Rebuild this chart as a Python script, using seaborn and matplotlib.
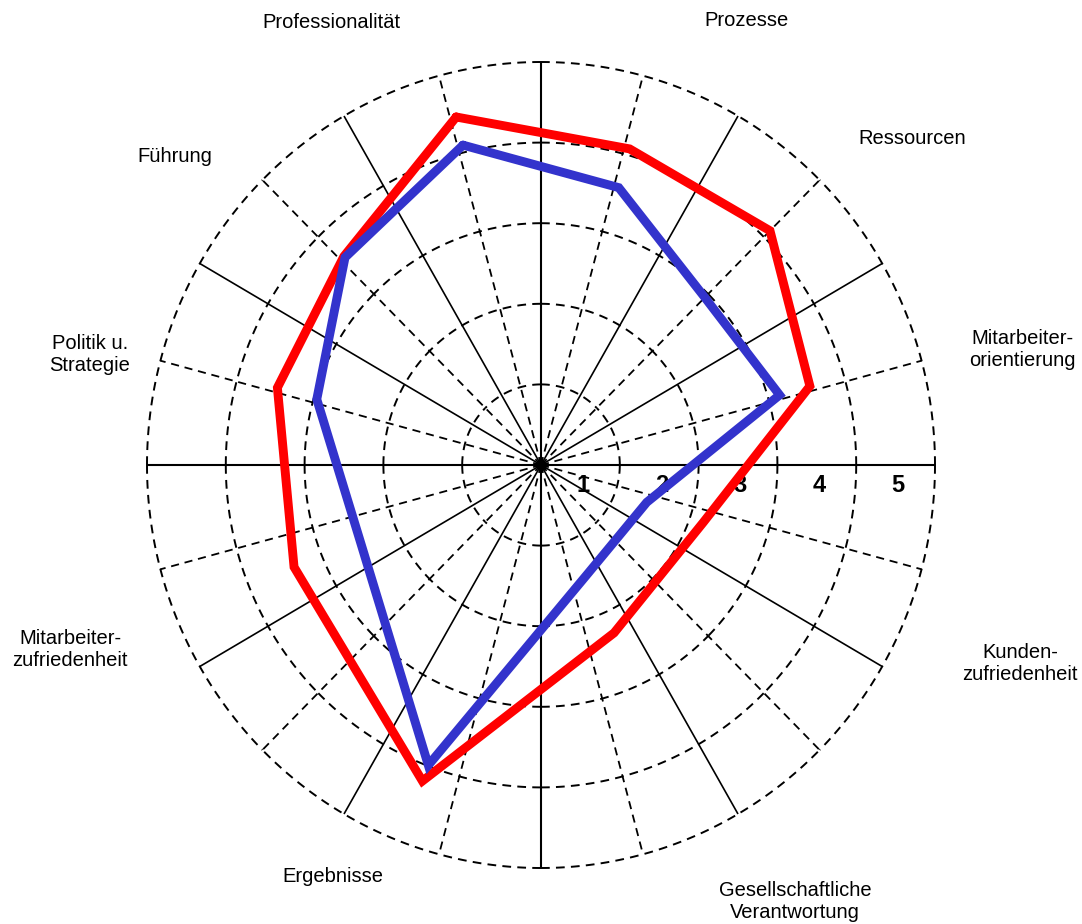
import numpy as np
import pandas as pd
import matplotlib
matplotlib.use("Agg")
import matplotlib.pyplot as plt
import seaborn as sns

# Criteria of the self-assessment and the direction of each criterion axis
criteria = ["Professionalität", "Prozesse", "Ressourcen", "Mitarbeiter-\norientierung",
            "Kunden-\nzufriedenheit", "Gesellschaftliche\nVerantwortung", "Ergebnisse",
            "Mitarbeiter-\nzufriedenheit", "Politik u.\nStrategie", "Führung"]
criterion_angle_deg = [104, 74, 45, 16, -19, -66, 249, 202, 164, 134]

# Scores (scale 0..5)
score_red = [4.45, 4.08, 4.11, 3.55, 2.18, 2.28, 4.20, 3.38, 3.48, 3.60]
score_blue = [4.09, 3.58, 2.94, 3.15, 1.42, 1.47, 3.99, 2.48, 2.96, 3.58]
scale_ticks = [1, 2, 3, 4, 5]

sns.set_theme(style="white")
plt.rcParams["font.family"] = ["Liberation Sans", "DejaVu Sans"]

W, H = 1082, 924
fig = plt.figure(figsize=(W / 100, H / 100), dpi=100)
fig.patch.set_facecolor("white")

cx, cy = 541, 465          # centre in pixels
rx, ry = 394, 403          # outer ring half-axes in pixels
ax = fig.add_axes([(cx - rx) / W, (H - cy - ry) / H, 2 * rx / W, 2 * ry / H],
                  projection="polar")
ax.set_aspect("auto")
ax.set_ylim(0, 5)
ax.grid(False)
ax.set_xticks([])
ax.set_yticks([])
ax.spines["polar"].set_visible(False)
ax.patch.set_alpha(0)

rmax = scale_ticks[-1]
dash = (0, (4.5, 3.2))

# spokes: solid every 30 degrees, dashed in between
solid = np.deg2rad(np.arange(0, 360, 30))
dashed = np.deg2rad(np.arange(15, 360, 30))
for t in solid:
    main = int(round(np.rad2deg(t))) % 90 == 0
    ax.plot([t, t], [0, rmax], color="black", lw=1.5 if main else 1.2,
            solid_capstyle="butt", clip_on=False, zorder=2)
for t in dashed:
    ax.plot([t, t], [0, rmax], color="black", lw=1.3, linestyle=dash,
            clip_on=False, zorder=2)

# dashed rings, dash pattern starting on each main axis
for r in scale_ticks:
    for k in range(4):
        base = k * np.pi / 2
        for sgn in (1, -1):
            th = base + sgn * np.linspace(0, np.pi / 4, 120)
            ax.plot(th, np.full_like(th, r), color="black", lw=1.4,
                    linestyle=dash, clip_on=False, zorder=2)

ax.scatter([0], [0], s=45, color="black", zorder=3, clip_on=False)

# scale labels along the horizontal axis
for k in scale_ticks:
    ax.annotate(str(k), xy=(0, k - 0.47), xytext=(0, -14.5), textcoords="offset points",
                ha="center", va="center", fontsize=17, fontweight="bold",
                color="black", annotation_clip=False)

# score polygons
theta = np.deg2rad(criterion_angle_deg)
frames = []
for name, vals in (("rot", score_red), ("blau", score_blue)):
    frames.append(pd.DataFrame({
        "theta": np.append(theta, theta[0]),
        "r": np.append(vals, vals[0]),
        "reihe": name,
    }))
df = pd.concat(frames, ignore_index=True)
for name, col in (("rot", "#FF0000"), ("blau", "#3333CC")):
    sub = df[df["reihe"] == name]
    sns.lineplot(data=sub, x="theta", y="r", sort=False, estimator=None,
                 color=col, lw=6.4, ax=ax, legend=False, zorder=5)
for ln in ax.lines[-2:]:
    ln.set_solid_joinstyle("miter")
    ln.set_clip_on(False)
ax.set_xlabel("")
ax.set_ylabel("")
ax.set_ylim(0, 5)
ax.set_xticks([])
ax.set_yticks([])

# criterion labels
label_pos = {
    "Professionalität": (331, 22),
    "Prozesse": (747, 20),
    "Ressourcen": (912, 138),
    "Mitarbeiter-\norientierung": (1022, 350),
    "Kunden-\nzufriedenheit": (1020, 664),
    "Gesellschaftliche\nVerantwortung": (795, 901),
    "Ergebnisse": (333, 877),
    "Mitarbeiter-\nzufriedenheit": (70, 649),
    "Politik u.\nStrategie": (90, 354),
    "Führung": (175, 157),
}
for name in criteria:
    px, py = label_pos[name]
    fig.text(px / W, 1 - py / H, name, ha="center", va="center",
             fontsize=14.5, color="black", linespacing=1.2)

fig.savefig("out.png", dpi=100, facecolor="white")
